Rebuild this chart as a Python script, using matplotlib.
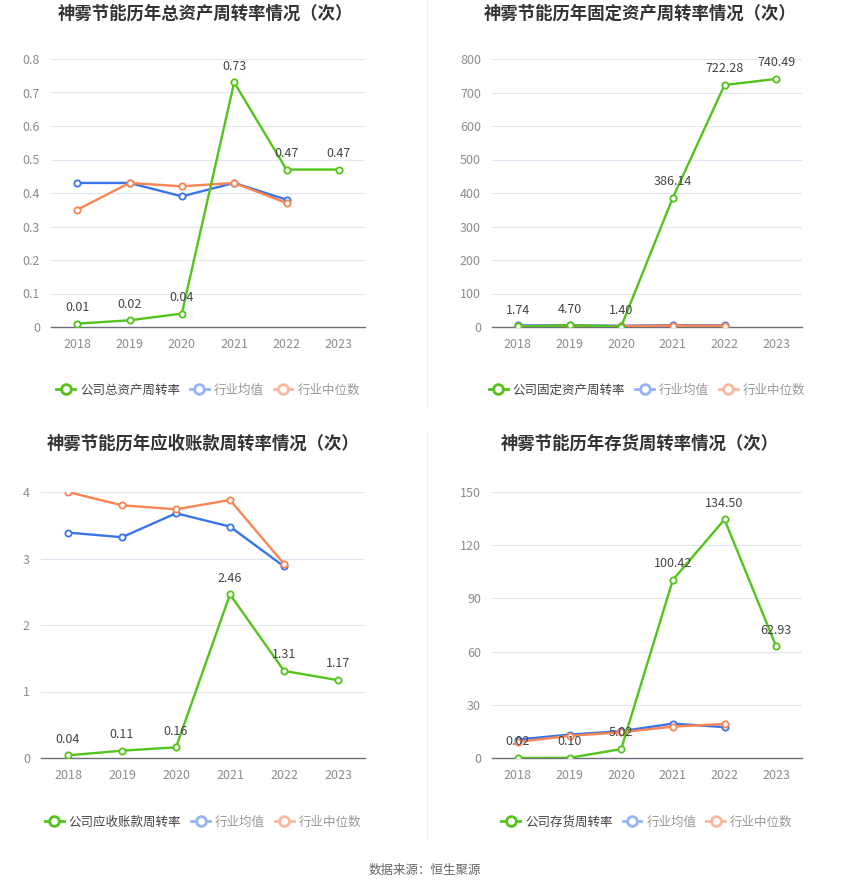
import matplotlib
matplotlib.use("Agg")
import matplotlib.pyplot as plt
from matplotlib.lines import Line2D

plt.rcParams['font.family'] = ['Noto Sans CJK SC', 'DejaVu Sans']

years = ['2018', '2019', '2020', '2021', '2022', '2023']
ind_years = ['2018', '2019', '2020', '2021', '2022']

# Chart 1: total asset turnover
total_company = [0.01, 0.02, 0.04, 0.73, 0.47, 0.47]
total_avg = [0.43, 0.43, 0.39, 0.43, 0.38]
total_median = [0.35, 0.43, 0.42, 0.43, 0.37]

# Chart 2: fixed asset turnover
fixed_company = [1.74, 4.70, 1.40, 386.14, 722.28, 740.49]
fixed_avg = [4.5, 4.8, 3.8, 5.2, 4.6]
fixed_median = [2.0, 3.5, 2.6, 4.2, 3.6]

# Chart 3: receivables turnover
recv_company = [0.04, 0.11, 0.16, 2.46, 1.31, 1.17]
recv_avg = [3.39, 3.32, 3.68, 3.48, 2.88]
recv_median = [4.00, 3.80, 3.74, 3.88, 2.92]

# Chart 4: inventory turnover
inv_company = [0.02, 0.10, 5.02, 100.42, 134.50, 62.93]
inv_avg = [10.4, 13.2, 15.1, 19.4, 17.4]
inv_median = [9.1, 12.5, 14.5, 17.7, 19.2]

titles = ['神雾节能历年总资产周转率情况（次）', '神雾节能历年固定资产周转率情况（次）',
          '神雾节能历年应收账款周转率情况（次）', '神雾节能历年存货周转率情况（次）']
company_names = ['公司总资产周转率', '公司固定资产周转率', '公司应收账款周转率', '公司存货周转率']
avg_name = '行业均值'
median_name = '行业中位数'

GREEN = '#52c41a'
BLUE = '#3a75e6'
ORANGE = '#fa8452'
GREEN_L = '#52c41a'
BLUE_L = '#93b4f5'
ORANGE_L = '#fbb89c'

W, H = 850, 891
fig = plt.figure(figsize=(W / 100, H / 100), dpi=100)


def rect(x0, x1, ytop, ybot):
    return [x0 / W, 1 - ybot / H, (x1 - x0) / W, (ybot - ytop) / H]


panels = [
    dict(rect=rect(51, 365, 59, 327), comp=total_company, avg=total_avg, med=total_median,
         ymax=0.8, step=0.1, fmt=lambda v: '0' if v == 0 else f'{v:.1f}', title_x=205, title_y=14,
         leg_y=390),
    dict(rect=rect(492, 802, 59, 327), comp=fixed_company, avg=fixed_avg, med=fixed_median,
         ymax=800, step=100, fmt=lambda v: f'{v:.0f}', title_x=640, title_y=14,
         leg_y=390),
    dict(rect=rect(41, 365, 492, 758), comp=recv_company, avg=recv_avg, med=recv_median,
         ymax=4, step=1, fmt=lambda v: f'{v:.0f}', title_x=203, title_y=444,
         leg_y=822),
    dict(rect=rect(492, 802, 492, 758), comp=inv_company, avg=inv_avg, med=inv_median,
         ymax=150, step=30, fmt=lambda v: f'{v:.0f}', title_x=640, title_y=444,
         leg_y=822),
]

for i, p in enumerate(panels):
    ax = fig.add_axes(p['rect'])
    x = list(range(len(years)))
    xi = list(range(len(ind_years)))
    mk = dict(marker='o', ms=4.5, mfc='white', mew=1.3)
    ax.plot(xi, p['avg'], color=BLUE, lw=1.7, mec=BLUE, zorder=3, **mk)
    ax.plot(xi, p['med'], color=ORANGE, lw=1.7, mec=ORANGE, zorder=3, **mk)
    ax.plot(x, p['comp'], color=GREEN, lw=1.7, mec=GREEN, zorder=4, **mk)
    for xx, v in zip(x, p['comp']):
        ax.annotate(f'{v:.2f}', (xx, v), xytext=(0, 7), textcoords='offset points',
                    ha='center', va='bottom', fontsize=9, color='#444444', zorder=5)
    ax.set_xlim(-0.5, len(years) - 0.5)
    ax.set_ylim(0, p['ymax'])
    n = int(round(p['ymax'] / p['step']))
    ticks = [k * p['step'] for k in range(n + 1)]
    ax.set_yticks(ticks)
    ax.set_yticklabels([p['fmt'](round(t, 2)) for t in ticks])
    ax.set_xticks(x)
    ax.set_xticklabels(years)
    ax.tick_params(axis='both', length=0, labelsize=9, labelcolor='#8c8c8c', pad=8)
    ax.grid(axis='y', color='#e0e6f1', lw=0.8)
    ax.set_axisbelow(True)
    for s in ['top', 'right', 'left']:
        ax.spines[s].set_visible(False)
    ax.spines['bottom'].set_color('#6e7079')
    ax.spines['bottom'].set_linewidth(1)

    fig.text(p['title_x'] / W, 1 - p['title_y'] / H, titles[i], ha='center', va='center',
             fontsize=12.5, fontweight='bold', color='#333333')

    handles = [
        Line2D([], [], color=GREEN_L, lw=2, marker='o', ms=7, mfc='white', mec=GREEN_L, mew=2),
        Line2D([], [], color=BLUE_L, lw=2, marker='o', ms=7, mfc='white', mec=BLUE_L, mew=2),
        Line2D([], [], color=ORANGE_L, lw=2, marker='o', ms=7, mfc='white', mec=ORANGE_L, mew=2),
    ]
    labels = [company_names[i], avg_name, median_name]
    cx = (p['rect'][0] + p['rect'][2] / 2)
    leg = fig.legend(handles, labels, loc='center', bbox_to_anchor=(cx, 1 - p['leg_y'] / H),
                     ncol=3, frameon=False, fontsize=9, handlelength=1.5, handletextpad=0.4,
                     columnspacing=0.8)
    for t, c in zip(leg.get_texts(), ['#444444', '#999999', '#999999']):
        t.set_color(c)

fig.add_artist(Line2D([427 / W, 427 / W], [1 - 0 / H, 1 - 408 / H], color='#eeeeee', lw=0.8))
fig.add_artist(Line2D([427 / W, 427 / W], [1 - 432 / H, 1 - 840 / H], color='#eeeeee', lw=0.8))

fig.text(425 / W, 1 - 870 / H, '数据来源：恒生聚源', ha='center', va='center', fontsize=9, color='#666666')

fig.savefig('out.png', dpi=100, facecolor='white')
